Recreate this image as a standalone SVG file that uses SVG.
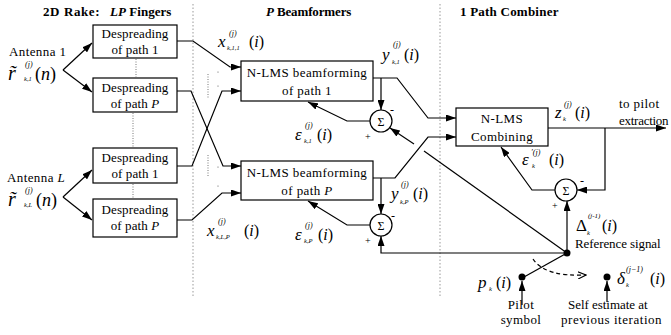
<svg xmlns="http://www.w3.org/2000/svg" width="671" height="335" viewBox="0 0 671 335">
<style>
text{font-family:"Liberation Serif","Times New Roman",serif;fill:#000}
.t{font-size:13px;letter-spacing:0.4px}
.d{font-size:13px;letter-spacing:0.1px}
.h{font-size:13px;font-weight:bold;letter-spacing:0.6px}
.m{font-size:17px;font-style:italic}
.p{font-size:16px}
.sp{font-size:8px;font-style:italic}
.sb{font-size:6.5px;font-style:italic}
.box{fill:#fff;stroke:#000;stroke-width:1.2}
.ln{fill:none;stroke:#000;stroke-width:1.2}
.dv{fill:none;stroke:#999;stroke-width:1;stroke-dasharray:1.5,2}
.ds{fill:none;stroke:#777;stroke-width:1;stroke-dasharray:1,1.5}
.sum{fill:#fff;stroke:#000;stroke-width:1.2}
</style>
<defs>
<marker id="ar" viewBox="0 0 10 7" refX="10" refY="3.5" markerWidth="10" markerHeight="7" markerUnits="userSpaceOnUse" orient="auto">
<path d="M0,0 L10,3.5 L0,7 z" fill="#000"/>
</marker>
<marker id="ao" viewBox="0 0 10 8" refX="9" refY="4" markerWidth="9" markerHeight="8" markerUnits="userSpaceOnUse" orient="auto">
<path d="M0,0 L9,4 L0,8" fill="none" stroke="#000" stroke-width="1.3"/>
</marker>
</defs>

<g id="headers">
<text class="h" x="43" y="16">2D Rake:</text>
<text class="h" x="110" y="16" textLength="62"><tspan font-style="italic">LP</tspan> Fingers</text>
<text class="h" x="266" y="16" textLength="86"><tspan font-style="italic">P</tspan> Beamformers</text>
<text class="h" x="460" y="16" textLength="99">1 Path Combiner</text>
</g>

<g id="separators">
<line class="dv" x1="193" y1="4" x2="193" y2="296"/>
<line class="dv" x1="440" y1="4" x2="440" y2="298"/>
<line class="ds" x1="136" y1="59" x2="136" y2="77"/>
<line class="ds" x1="133" y1="113" x2="133" y2="147"/>
<line class="ds" x1="133" y1="184" x2="133" y2="198"/>
<line class="ds" x1="208" y1="74" x2="208" y2="98"/>
<line class="ds" x1="208" y1="155" x2="208" y2="177"/>
<circle cx="218" cy="72" r="0.6" fill="#555"/>
<circle cx="218" cy="86" r="0.6" fill="#555"/>
<circle cx="218" cy="167" r="0.6" fill="#555"/>
<circle cx="218" cy="186" r="0.6" fill="#555"/>
</g>

<g id="antenna1">
<text class="t" x="9" y="56">Antenna 1</text>
<text class="m" x="8" y="80" style="font-size:20px">r̃</text>
<text class="sp" x="25" y="67">(j)</text>
<text class="sb" x="24" y="81">k,1</text>
<text x="35" y="80" style="font-size:18px">(<tspan font-style="italic">n</tspan>)</text>
</g>

<g id="antennaL">
<text class="t" x="7" y="182">Antenna <tspan font-style="italic">L</tspan></text>
<text class="m" x="8" y="206" style="font-size:20px">r̃</text>
<text class="sp" x="25" y="193">(j)</text>
<text class="sb" x="24" y="207">k,L</text>
<text x="36" y="206" style="font-size:18px">(<tspan font-style="italic">n</tspan>)</text>
</g>

<g id="desp1">
<rect class="box" x="93" y="25" width="84" height="33"/>
<text class="d" x="135" y="38" text-anchor="middle">Despreading</text>
<text class="d" x="135" y="54" text-anchor="middle">of path 1</text>
</g>
<g id="desp2">
<rect class="box" x="93" y="78" width="84" height="34"/>
<text class="d" x="135" y="92" text-anchor="middle">Despreading</text>
<text class="d" x="135" y="108" text-anchor="middle">of path <tspan font-style="italic">P</tspan></text>
</g>
<g id="desp3">
<rect class="box" x="93" y="148" width="84" height="35"/>
<text class="d" x="135" y="162" text-anchor="middle">Despreading</text>
<text class="d" x="135" y="178" text-anchor="middle">of path 1</text>
</g>
<g id="desp4">
<rect class="box" x="93" y="199" width="84" height="38"/>
<text class="d" x="135" y="214" text-anchor="middle">Despreading</text>
<text class="d" x="135" y="230" text-anchor="middle">of path <tspan font-style="italic">P</tspan></text>
</g>

<g id="bf1">
<rect class="box" x="241" y="61" width="132" height="40"/>
<text class="t" x="307" y="77" text-anchor="middle">N-LMS beamforming</text>
<text class="t" x="307" y="95" text-anchor="middle">of path 1</text>
</g>
<g id="bf2">
<rect class="box" x="241" y="161" width="132" height="39"/>
<text class="t" x="307" y="177" text-anchor="middle">N-LMS beamforming</text>
<text class="t" x="307" y="195" text-anchor="middle">of path <tspan font-style="italic">P</tspan></text>
</g>
<g id="combiner">
<rect class="box" x="456" y="108" width="92" height="38"/>
<text class="t" x="502" y="123" text-anchor="middle">N-LMS</text>
<text class="t" x="502" y="141" text-anchor="middle">Combining</text>
</g>

<g id="sum1">
<circle class="sum" cx="381" cy="121" r="11"/>
<text x="381" y="125.5" text-anchor="middle" style="font-size:12px">Σ</text>
<text x="390" y="114" style="font-size:12px">-</text>
<text x="365" y="140" style="font-size:10px">+</text>
</g>
<g id="sum2">
<circle class="sum" cx="381" cy="225" r="11"/>
<text x="381" y="229.5" text-anchor="middle" style="font-size:12px">Σ</text>
<text x="391" y="220" style="font-size:12px">-</text>
<text x="365" y="244" style="font-size:10px">+</text>
</g>
<g id="sum3">
<circle class="sum" cx="566" cy="190" r="11"/>
<text x="566" y="194.5" text-anchor="middle" style="font-size:12px">Σ</text>
<text x="580" y="185" style="font-size:12px">-</text>
<text x="552" y="209" style="font-size:10px">+</text>
</g>

<g id="refnode">
<circle cx="567" cy="253" r="3.5" fill="#000"/>
<text class="t" x="575" y="248" textLength="86">Reference signal</text>
</g>
<g id="pilot">
<circle cx="522" cy="277" r="3.5" fill="#000"/>
<text class="t" x="521" y="309" text-anchor="middle">Pilot</text>
<text class="t" x="521" y="324" text-anchor="middle">symbol</text>
</g>
<g id="selfest">
<circle cx="607" cy="277" r="3.5" fill="#000"/>
<text class="t" x="568" y="309" textLength="80">Self estimate at</text>
<text class="t" x="561" y="324" textLength="101">previous iteration</text>
</g>

<g id="connectors">
<path class="ln" d="M63,70 L92,43" marker-end="url(#ar)"/>
<path class="ln" d="M63,70 L92,92" marker-end="url(#ar)"/>
<path class="ln" d="M63,197 L92,170" marker-end="url(#ar)"/>
<path class="ln" d="M63,197 L92,220" marker-end="url(#ar)"/>
<path class="ln" d="M177,41 L193,41 L230,67 L241,67" marker-end="url(#ar)"/>
<path class="ln" d="M177,91 L191,91 L223,166 L241,166" marker-end="url(#ar)"/>
<path class="ln" d="M177,166 L192,166 L222,91 L241,91" marker-end="url(#ar)"/>
<path class="ln" d="M177,220 L192,220 L222,193 L241,193" marker-end="url(#ar)"/>
<path class="ln" d="M373,78 L397,78 L428,118 L456,118" marker-end="url(#ar)"/>
<path class="ln" d="M381,78 L381,110" marker-end="url(#ar)"/>
<path class="ln" d="M373,178 L395,178 L428,137 L456,137" marker-end="url(#ar)"/>
<path class="ln" d="M381,178 L381,214" marker-end="url(#ar)"/>
<path class="ln" d="M370,121 L347,121 L308,102" marker-end="url(#ar)"/>
<path class="ln" d="M370,225 L347,225 L308,201" marker-end="url(#ar)"/>
<path class="ln" d="M567,253 L424,151"/>
<path class="ln" d="M414,144 L390,128" marker-end="url(#ar)"/>
<path class="ln" d="M567,253 L381,253 L381,236" marker-end="url(#ar)"/>
<path class="ln" d="M567,253 L567,201" marker-end="url(#ar)"/>
<path class="ln" d="M548,128 L666,128" marker-end="url(#ar)"/>
<path class="ln" d="M605,128 L605,190 L577,190" marker-end="url(#ar)"/>
<path class="ln" d="M555,190 L532,190 L501,147" marker-end="url(#ar)"/>
<path class="ln" d="M567,253 L524,277"/>
<path class="ln" d="M522,305 L522,281" marker-end="url(#ar)"/>
<path class="ln" d="M607,302 L607,281" marker-end="url(#ar)"/>
<path class="ln" d="M533,259 Q545,277 586,275" stroke-dasharray="4,3" marker-end="url(#ao)"/>
</g>

<g id="labels">
<text class="m" x="218" y="47">x</text>
<text class="sp" x="229" y="36">(j)</text>
<text class="sb" x="227" y="50">k,1,1</text>
<text class="p" x="249" y="47">(<tspan font-style="italic">i</tspan>)</text>

<text class="m" x="207" y="236">x</text>
<text class="sp" x="218" y="224">(j)</text>
<text class="sb" x="216" y="239">k,L,P</text>
<text class="p" x="244" y="236">(<tspan font-style="italic">i</tspan>)</text>

<text class="m" x="382" y="60">y</text>
<text class="sp" x="393" y="47">(j)</text>
<text class="sb" x="392" y="64">k,1</text>
<text class="p" x="404" y="60">(<tspan font-style="italic">i</tspan>)</text>

<text class="m" x="391" y="199">y</text>
<text class="sp" x="401" y="187">(j)</text>
<text class="sb" x="400" y="204">k,P</text>
<text class="p" x="413" y="199">(<tspan font-style="italic">i</tspan>)</text>

<text class="m" x="295" y="140">ε</text>
<text class="sp" x="305" y="128">(j)</text>
<text class="sb" x="304" y="143">k,1</text>
<text class="p" x="317" y="140">(<tspan font-style="italic">i</tspan>)</text>

<text class="m" x="295" y="240">ε</text>
<text class="sp" x="305" y="228">(j)</text>
<text class="sb" x="304" y="243">k,P</text>
<text class="p" x="318" y="240">(<tspan font-style="italic">i</tspan>)</text>

<text class="m" x="555" y="118">z</text>
<text class="sp" x="564" y="107">(j)</text>
<text class="sb" x="563" y="121">k</text>
<text class="p" x="575" y="118">(<tspan font-style="italic">i</tspan>)</text>

<text class="t" x="619" y="108">to pilot</text>
<text class="t" x="619" y="125" textLength="50">extraction</text>

<text class="m" x="522" y="165">ε</text>
<text class="sp" x="531" y="155">′(j)</text>
<text class="sb" x="532" y="168">k</text>
<text class="p" x="549" y="165">(<tspan font-style="italic">i</tspan>)</text>

<text class="m" x="576" y="231" style="font-style:normal">Δ</text>
<text class="sp" x="588" y="218" style="font-size:7px">(j-1)</text>
<text class="sb" x="587" y="235">k</text>
<text class="p" x="602" y="231">(<tspan font-style="italic">i</tspan>)</text>

<text class="m" x="478" y="288">p</text>
<text class="sb" x="489" y="291">k</text>
<text class="p" x="496" y="288">(<tspan font-style="italic">i</tspan>)</text>

<text class="m" x="617" y="284">δ</text>
<text class="sp" x="626" y="272">(j−1)</text>
<text class="sb" x="626" y="287">k</text>
<text class="p" x="650" y="284">(<tspan font-style="italic">i</tspan>)</text>
</g>
</svg>
